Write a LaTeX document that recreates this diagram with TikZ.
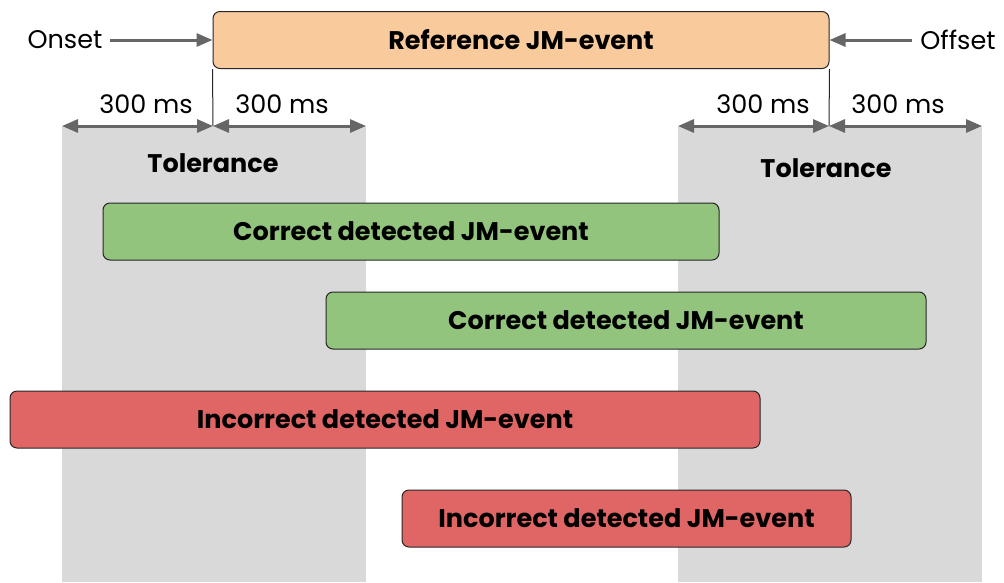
\documentclass[tikz,border=0pt]{standalone}
\usepackage{fontspec}
\setmainfont{Poppins}
\usetikzlibrary{arrows.meta}
\definecolor{band}{HTML}{D9D9D9}
\definecolor{refc}{HTML}{F9CB9C}
\definecolor{okc}{HTML}{93C47D}
\definecolor{badc}{HTML}{E06666}
\definecolor{arr}{HTML}{666666}
\begin{document}
\begin{tikzpicture}[x=1pt,y=-1pt,
  evbox/.style={draw=black!85,line width=1pt,rounded corners=7pt,font=\fontsize{25.5}{30}\selectfont\bfseries},
  lbl/.style={font=\fontsize{25.5}{30}\selectfont,inner sep=0pt},
  tol/.style={font=\fontsize{25.5}{30}\selectfont\bfseries,inner sep=0pt},
  garrow/.style={draw=arr,line width=3pt,-{Triangle[length=16pt,width=13pt]}},
  darrow/.style={draw=arr,line width=3pt,{Triangle[length=16pt,width=13pt]}-{Triangle[length=16pt,width=13pt]}},
  vline/.style={draw=black!85,line width=1pt}]
\useasboundingbox (0,0) rectangle (1004,582);
% tolerance bands
\fill[band] (62,126) rectangle (366,582);
\fill[band] (678,126) rectangle (982,582);
% reference box
\node[evbox,fill=refc,minimum width=616pt,minimum height=57pt] (ref) at (521,40) {Reference JM-event};
\node[lbl] (onset) at (65,40) {Onset};
\node[lbl] (offset) at (958,40) {Offset};
\draw[garrow] (110,40) -- (ref.west);
\draw[garrow] (912,40) -- (ref.east);
% vertical lines
\coordinate (onb) at (213,126);
\coordinate (offb) at (829,126);
\draw[vline] (ref.south west) -- (onb);
\draw[vline] (ref.south east) -- (offb);
% dimension arrows
\coordinate (l1) at (62,126);
\coordinate (r1) at (366,126);
\coordinate (l2) at (678,126);
\coordinate (r2) at (982,126);
\draw[darrow] (l1) -- (onb);
\draw[darrow] (onb) -- (r1);
\draw[darrow] (l2) -- (offb);
\draw[darrow] (offb) -- (r2);
\node[lbl] (m1) at (146,104) {300 ms};
\node[lbl] (m2) at (282,104) {300 ms};
\node[lbl] (m3) at (763,104) {300 ms};
\node[lbl] (m4) at (898,104) {300 ms};
\node[tol] (t1) at (213,163) {Tolerance};
\node[tol] (t2) at (826,168) {Tolerance};
% detected events
\node[evbox,fill=okc,minimum width=616pt,minimum height=57pt] (c1) at (411,231.5) {Correct detected JM-event};
\node[evbox,fill=okc,minimum width=600pt,minimum height=57pt] (c2) at (626,320.5) {Correct detected JM-event};
\node[evbox,fill=badc,minimum width=750pt,minimum height=57pt] (i1) at (385,419.5) {Incorrect detected JM-event};
\node[evbox,fill=badc,minimum width=449pt,minimum height=57pt] (i2) at (626.5,518.5) {Incorrect detected JM-event};
\end{tikzpicture}
\end{document}
